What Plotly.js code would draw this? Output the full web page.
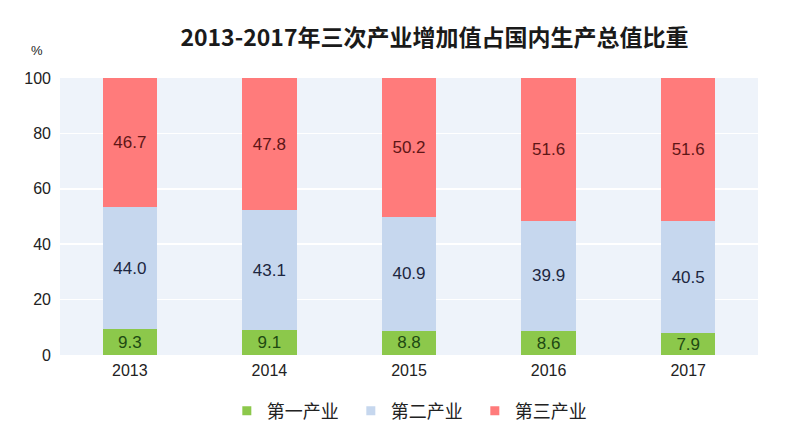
<!DOCTYPE html>
<html>
<head>
<meta charset="utf-8">
<script src="https://cdn.plot.ly/plotly-3.0.1.min.js"></script>
<style>html,body{margin:0;padding:0;background:#fff;}#chart{width:787px;height:441px;}</style>
</head>
<body>
<div id="chart"></div>
<script>
const years = ['2013', '2014', '2015', '2016', '2017'];
const primary = [9.3, 9.1, 8.8, 8.6, 7.9];
const secondary = [44.0, 43.1, 40.9, 39.9, 40.5];
const tertiary = [46.7, 47.8, 50.2, 51.6, 51.6];
const seriesNames = ['第一产业', '第二产业', '第三产业'];
const seriesColors = ['#8CC84B', '#C6D7EE', '#FF7B7B'];
const tickVals = [0, 20, 40, 60, 80, 100];

const fontFam = 'Liberation Sans, Arial, sans-serif';
const cjk = 'Noto Sans CJK SC, sans-serif';

function bar(i, y, textColor) {
  return {
    type: 'bar', name: seriesNames[i], x: years, y: y,
    marker: {color: seriesColors[i], line: {width: 0}},
    width: 0.39,
    text: y.map(v => v.toFixed(1)),
    texttemplate: '%{text}',
    textposition: 'inside',
    insidetextanchor: 'middle',
    textangle: 0,
    constraintext: 'none',
    textfont: {family: fontFam, size: 17, color: textColor},
    hoverinfo: 'skip',
    showlegend: false
  };
}
function legendEntry(i) {
  return {type: 'scatter', mode: 'markers', name: seriesNames[i], x: [null], y: [null],
          marker: {symbol: 'square', size: 9, color: seriesColors[i]}, hoverinfo: 'skip'};
}

const data = [
  bar(0, primary, '#1e4a12'),
  bar(1, secondary, '#1c2640'),
  bar(2, tertiary, '#5e1616'),
  legendEntry(0), legendEntry(1), legendEntry(2)
];

const layout = {
  width: 787, height: 441,
  barmode: 'stack',
  paper_bgcolor: '#ffffff',
  plot_bgcolor: '#EEF3FA',
  margin: {l: 60, r: 29, t: 78, b: 86},
  title: {text: '2013-2017年三次产业增加值占国内生产总值比重', font: {family: cjk, size: 23, color: '#1a1a1a', weight: 'bold'}, x: 0.552, xanchor: 'center', y: 0.915, yanchor: 'middle'},
  xaxis: {type: 'category', showgrid: false, zeroline: false, showline: false, ticks: '',
          tickfont: {family: fontFam, size: 16, color: '#222'}, ticklabelstandoff: 4},
  yaxis: {range: [0, 100], tickvals: tickVals, ticktext: tickVals.map(String),
          showgrid: true, gridcolor: '#ffffff', gridwidth: 1.5, zeroline: false, showline: false,
          tickfont: {family: fontFam, size: 16, color: '#222'}, ticks: '', ticklabelstandoff: 8},
  showlegend: true,
  legend: {orientation: 'h', x: 0.239, xanchor: 'left', y: -0.202, yanchor: 'middle',
           font: {family: cjk, size: 18, color: '#222'}, traceorder: 'normal',
           itemwidth: 30, entrywidth: 79, entrywidthmode: 'pixels', bgcolor: 'rgba(0,0,0,0)'},
  annotations: [{text: '%', xref: 'paper', yref: 'paper', x: -0.033, y: 1.10, xanchor: 'center', yanchor: 'middle', showarrow: false,
                 font: {family: fontFam, size: 13, color: '#222'}}],
  bargap: 0.6
};

Plotly.newPlot('chart', data, layout, {displayModeBar: false, staticPlot: true});
</script>
</body>
</html>
